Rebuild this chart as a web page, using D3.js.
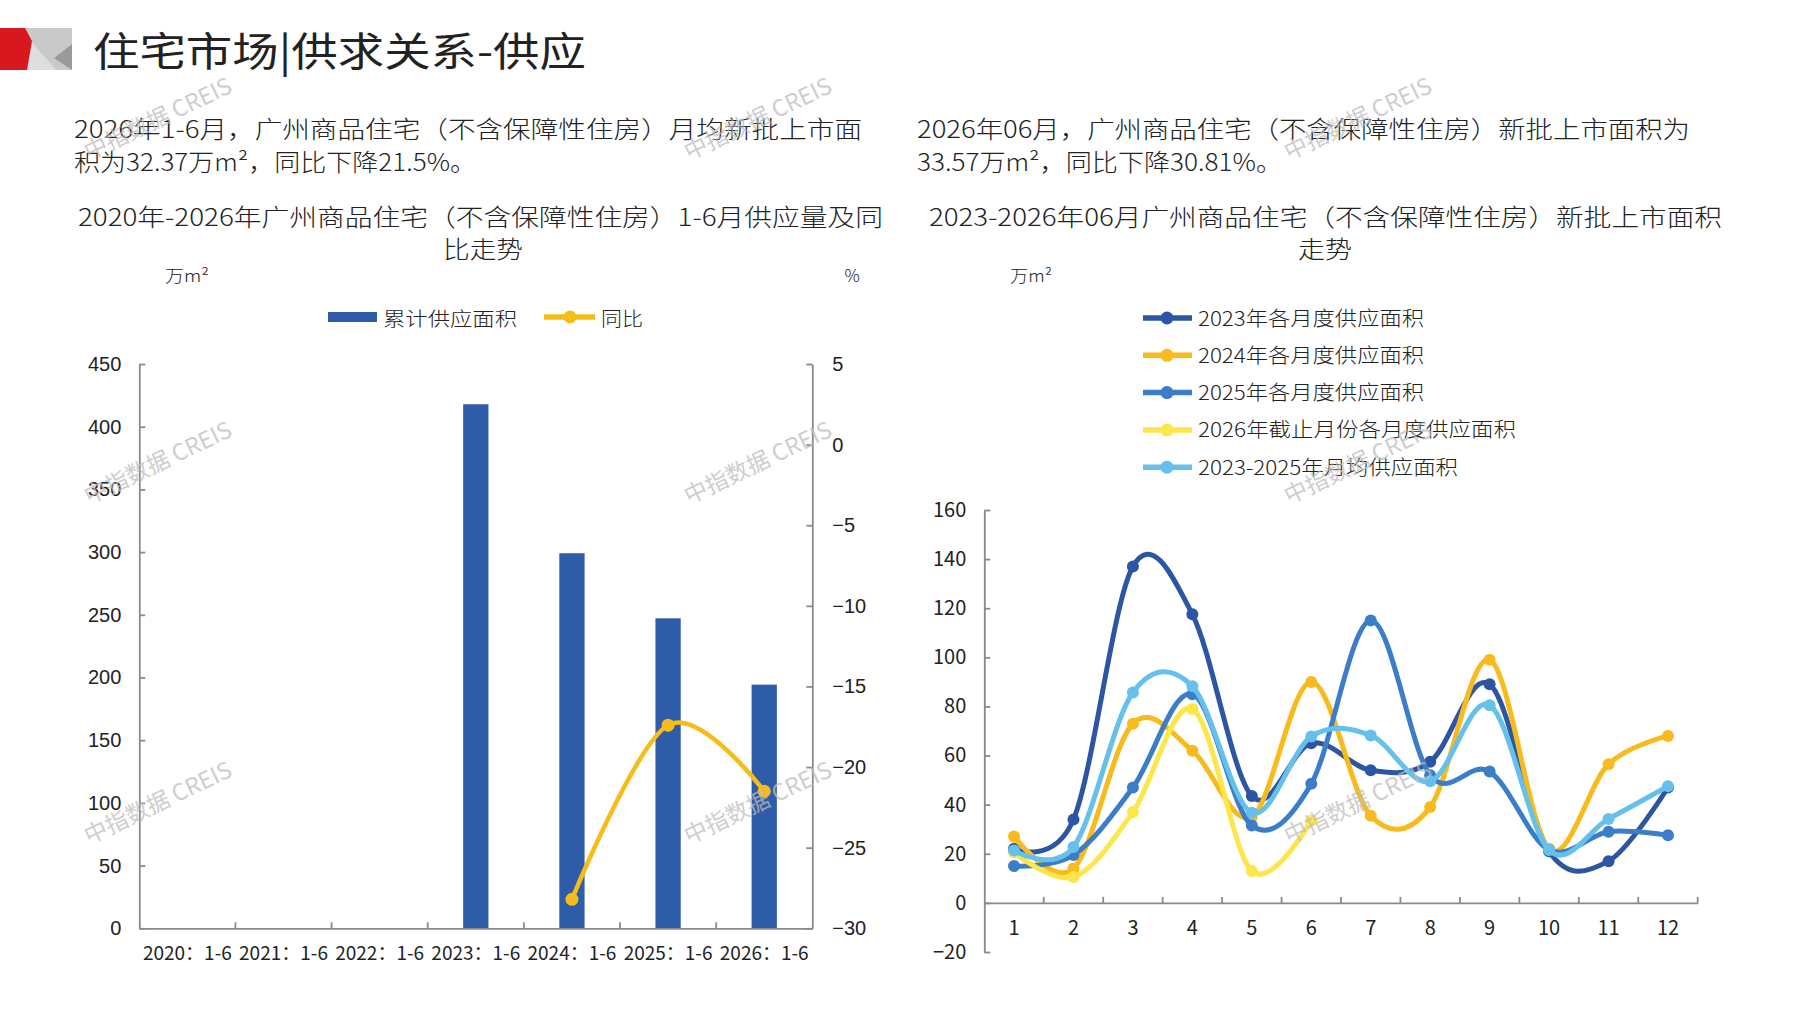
<!DOCTYPE html>
<html><head><meta charset="utf-8">
<script src="https://cdn.jsdelivr.net/npm/d3@7"></script>
<style>body{margin:0;background:#fff;} svg{display:block;}</style>
</head><body><svg id="c" width="1797" height="1010"></svg>
<script>
// ---------- data ----------
const barCategories = ["2020：1-6","2021：1-6","2022：1-6","2023：1-6","2024：1-6","2025：1-6","2026：1-6"];
const barValues = [null, null, null, 417.9, 299.1, 247.2, 194.3];
const yoyValues = [null, null, null, null, -28.2, -17.4, -21.5];
const leftYTicks = [0, 50, 100, 150, 200, 250, 300, 350, 400, 450];
const rightYTicks = [-30, -25, -20, -15, -10, -5, 0, 5];

const months = [1,2,3,4,5,6,7,8,9,10,11,12];
const supply2023 = [22, 34, 137, 117.5, 43.5, 65, 54, 57.5, 89, 21, 17, 47];
const supply2024 = [27, 14, 73, 62, 35, 90, 35.5, 39, 99, 22, 56.5, 68];
const supply2025 = [15, 19.5, 47, 85, 31.5, 48.5, 115, 52, 53.5, 21.5, 29, 27.5];
const supply2026 = [20.5, 10.5, 37, 79, 13, 33.57];
const supplyAvg = [21.3, 22.8, 85.7, 88.2, 36.7, 67.8, 68.2, 49.5, 80.5, 21.5, 34.2, 47.5];
const seriesNames = ["2023年各月度供应面积","2024年各月度供应面积","2025年各月度供应面积","2026年截止月份各月度供应面积","2023-2025年月均供应面积"];
const seriesColors = ["#2C55A3","#F8BA1C","#3B7DC8","#FCE64A","#66C0EC"];
const lineYTicks = [-20, 0, 20, 40, 60, 80, 100, 120, 140, 160];

// ---------- setup ----------
const svg = d3.select("#c");
const CJK = "'Noto Sans CJK SC','Noto Sans',sans-serif";
const LAT = "'Liberation Sans',Arial,sans-serif";
const TXT = "#222";

function txt(x, y, s, opt = {}) {
  const t = svg.append("text").attr("x", x).attr("y", y).text(s)
    .attr("dominant-baseline", "central")
    .attr("font-family", opt.family || CJK)
    .attr("font-size", opt.size || 24)
    .attr("font-weight", opt.weight || 300)
    .attr("fill", opt.fill || TXT)
    .attr("text-anchor", opt.anchor || "start");
  if (opt.len) t.attr("textLength", opt.len).attr("lengthAdjust", "spacingAndGlyphs");
  return t;
}

// ---------- header ----------
svg.append("polygon").attr("points", "25,28 72,28 72,70 25,70").attr("fill", "#c9c9c9");
svg.append("polygon").attr("points", "30,40 56,70 27,70").attr("fill", "#dedede");
svg.append("polygon").attr("points", "72,44 72,70 54,58").attr("fill", "#9a9a9a");
svg.append("polygon").attr("points", "0,28 25,28 32,41 27,70 0,70").attr("fill", "#d7191f");
txt(93, 49, "住宅市场|供求关系-供应", {size: 40, len: 493, weight: 400});

txt(74, 127, "2026年1-6月，广州商品住宅（不含保障性住房）月均新批上市面", {size: 24, len: 788});
txt(74, 160, "积为32.37万m²，同比下降21.5%。", {size: 24, len: 402});
txt(917, 127, "2026年06月，广州商品住宅（不含保障性住房）新批上市面积为", {size: 24, len: 773});
txt(917, 160, "33.57万m²，同比下降30.81%。", {size: 24, len: 365});

txt(78, 215, "2020年-2026年广州商品住宅（不含保障性住房）1-6月供应量及同", {size: 24, len: 805});
txt(483, 247, "比走势", {size: 24, anchor: "middle", len: 80});
txt(929, 215, "2023-2026年06月广州商品住宅（不含保障性住房）新批上市面积", {size: 24, len: 793});
txt(1325, 247, "走势", {size: 24, anchor: "middle", len: 54});

txt(165, 274, "万m²", {size: 17, len: 44});
txt(852, 274, "%", {size: 17, anchor: "middle"});
txt(1010, 274, "万m²", {size: 17, len: 42});

// ---------- left chart ----------
const L = {x0: 139.3, x1: 812.3, y0: 928.3, y1: 364};
const xL = d3.scaleBand().domain(barCategories).range([L.x0, L.x1]);
const yL = d3.scaleLinear().domain([0, 450]).range([L.y0, L.y1]);
const yR = d3.scaleLinear().domain([-30, 5]).range([L.y0, L.y1]);
const axisColor = "#8a8a8a";

function styleAxis(g, family, size) {
  g.selectAll("path,line").attr("stroke", axisColor).attr("stroke-width", 1.8);
  g.selectAll("text").attr("fill", TXT).attr("font-family", family).attr("font-size", size);
}

svg.append("g").attr("transform", `translate(${L.x0},0)`)
  .call(d3.axisLeft(yL).tickValues(leftYTicks).tickSize(-6).tickSizeOuter(0).tickPadding(18))
  .call(g => styleAxis(g, LAT, 20));
svg.append("g").attr("transform", `translate(${L.x1},0)`)
  .call(d3.axisRight(yR).tickValues(rightYTicks).tickSize(-6).tickSizeOuter(0).tickPadding(20)
    .tickFormat(d => d < 0 ? "−" + Math.abs(d) : d))
  .call(g => styleAxis(g, LAT, 20));

// bars
const barW = xL.bandwidth() * 0.263;
svg.append("g").selectAll("rect")
  .data(barCategories.map((c, i) => ({c, v: barValues[i]})).filter(d => d.v != null))
  .join("rect")
  .attr("x", d => xL(d.c) + xL.bandwidth() / 2 - barW / 2)
  .attr("width", barW)
  .attr("y", d => yL(d.v))
  .attr("height", d => yL(0) - yL(d.v))
  .attr("fill", "#2F5CA8");

// x axis
svg.append("g").attr("transform", `translate(0,${L.y0})`)
  .call(d3.axisBottom(xL).tickSize(0).tickSizeOuter(0).tickPadding(18))
  .call(g => styleAxis(g, CJK, 19));
svg.append("g").selectAll("line")
  .data(barCategories.slice(1))
  .join("line")
  .attr("x1", d => xL(d)).attr("x2", d => xL(d))
  .attr("y1", L.y0).attr("y2", L.y0 - 6)
  .attr("stroke", axisColor).attr("stroke-width", 1.8);

// yoy line
const yoyPts = barCategories.map((c, i) => ({c, v: yoyValues[i]})).filter(d => d.v != null);
svg.append("path").datum(yoyPts)
  .attr("d", d3.line().x(d => xL(d.c) + xL.bandwidth() / 2).y(d => yR(d.v)).curve(d3.curveCardinal.tension(0)))
  .attr("fill", "none").attr("stroke", "#F6BC18").attr("stroke-width", 4.5);
svg.append("g").selectAll("circle").data(yoyPts).join("circle")
  .attr("cx", d => xL(d.c) + xL.bandwidth() / 2).attr("cy", d => yR(d.v)).attr("r", 6.5)
  .attr("fill", "#F6BC18");

// left legend
svg.append("rect").attr("x", 328).attr("y", 312).attr("width", 49).attr("height", 10).attr("fill", "#2F5CA8");
txt(383, 317, "累计供应面积", {size: 19, len: 134});
svg.append("line").attr("x1", 544).attr("x2", 595).attr("y1", 317).attr("y2", 317)
  .attr("stroke", "#F6BC18").attr("stroke-width", 5.5);
svg.append("circle").attr("cx", 570).attr("cy", 317).attr("r", 6.5).attr("fill", "#F6BC18");
txt(601, 317, "同比", {size: 19, len: 42});

// ---------- right chart ----------
const R = {x0: 984.3, x1: 1697.7, yTop: 510, yBot: 952};
const xM = d3.scaleBand().domain(months).range([R.x0, R.x1]);
const yM = d3.scaleLinear().domain([-20, 160]).range([R.yBot, R.yTop]);

svg.append("g").attr("transform", `translate(${R.x0},0)`)
  .call(d3.axisLeft(yM).tickValues(lineYTicks).tickSize(-6).tickSizeOuter(0).tickPadding(18)
    .tickFormat(d => d < 0 ? "−" + Math.abs(d) : d))
  .call(g => styleAxis(g, CJK, 20));
svg.append("g").attr("transform", `translate(0,${yM(0)})`)
  .call(d3.axisBottom(xM).tickSize(0).tickSizeOuter(0).tickPadding(18))
  .call(g => styleAxis(g, CJK, 20));
svg.append("g").selectAll("line")
  .data(months.slice(1).map(m => xM(m)).concat([R.x1]))
  .join("line")
  .attr("x1", d => d).attr("x2", d => d)
  .attr("y1", yM(0)).attr("y2", yM(0) - 6)
  .attr("stroke", axisColor).attr("stroke-width", 1.8);

const allSeries = [supply2023, supply2024, supply2025, supply2026, supplyAvg];
const lineGen = d3.line()
  .x(d => xM(d.m) + xM.bandwidth() / 2)
  .y(d => yM(d.v))
  .curve(d3.curveCardinal.tension(0));
allSeries.forEach((vals, si) => {
  const pts = vals.map((v, i) => ({m: months[i], v}));
  const g = svg.append("g");
  g.append("path").datum(pts).attr("d", lineGen)
    .attr("fill", "none").attr("stroke", seriesColors[si]).attr("stroke-width", 5);
  g.selectAll("circle").data(pts).join("circle")
    .attr("cx", d => xM(d.m) + xM.bandwidth() / 2).attr("cy", d => yM(d.v)).attr("r", 6)
    .attr("fill", seriesColors[si]);
});

// right legend
const legendLens = [226, 226, 226, 318, 260];
seriesNames.forEach((n, i) => {
  const y = 318 + i * 37.3;
  svg.append("line").attr("x1", 1143).attr("x2", 1192).attr("y1", y).attr("y2", y)
    .attr("stroke", seriesColors[i]).attr("stroke-width", 5.5);
  svg.append("circle").attr("cx", 1167).attr("cy", y).attr("r", 6.5).attr("fill", seriesColors[i]);
  txt(1198, y - 1, n, {size: 20, len: legendLens[i]});
});

// ---------- watermarks ----------
const wmX = [157, 757, 1357], wmY = [117, 461, 801];
wmY.forEach(y => wmX.forEach(x => {
  svg.append("text").attr("transform", `translate(${x},${y}) rotate(-25.5)`)
    .attr("text-anchor", "middle").attr("dominant-baseline", "central")
    .attr("font-family", CJK).attr("font-size", 23)
    .attr("fill", "#bdbdbd").attr("opacity", 0.75)
    .text("中指数据 CREIS");
}));
</script></body></html>
